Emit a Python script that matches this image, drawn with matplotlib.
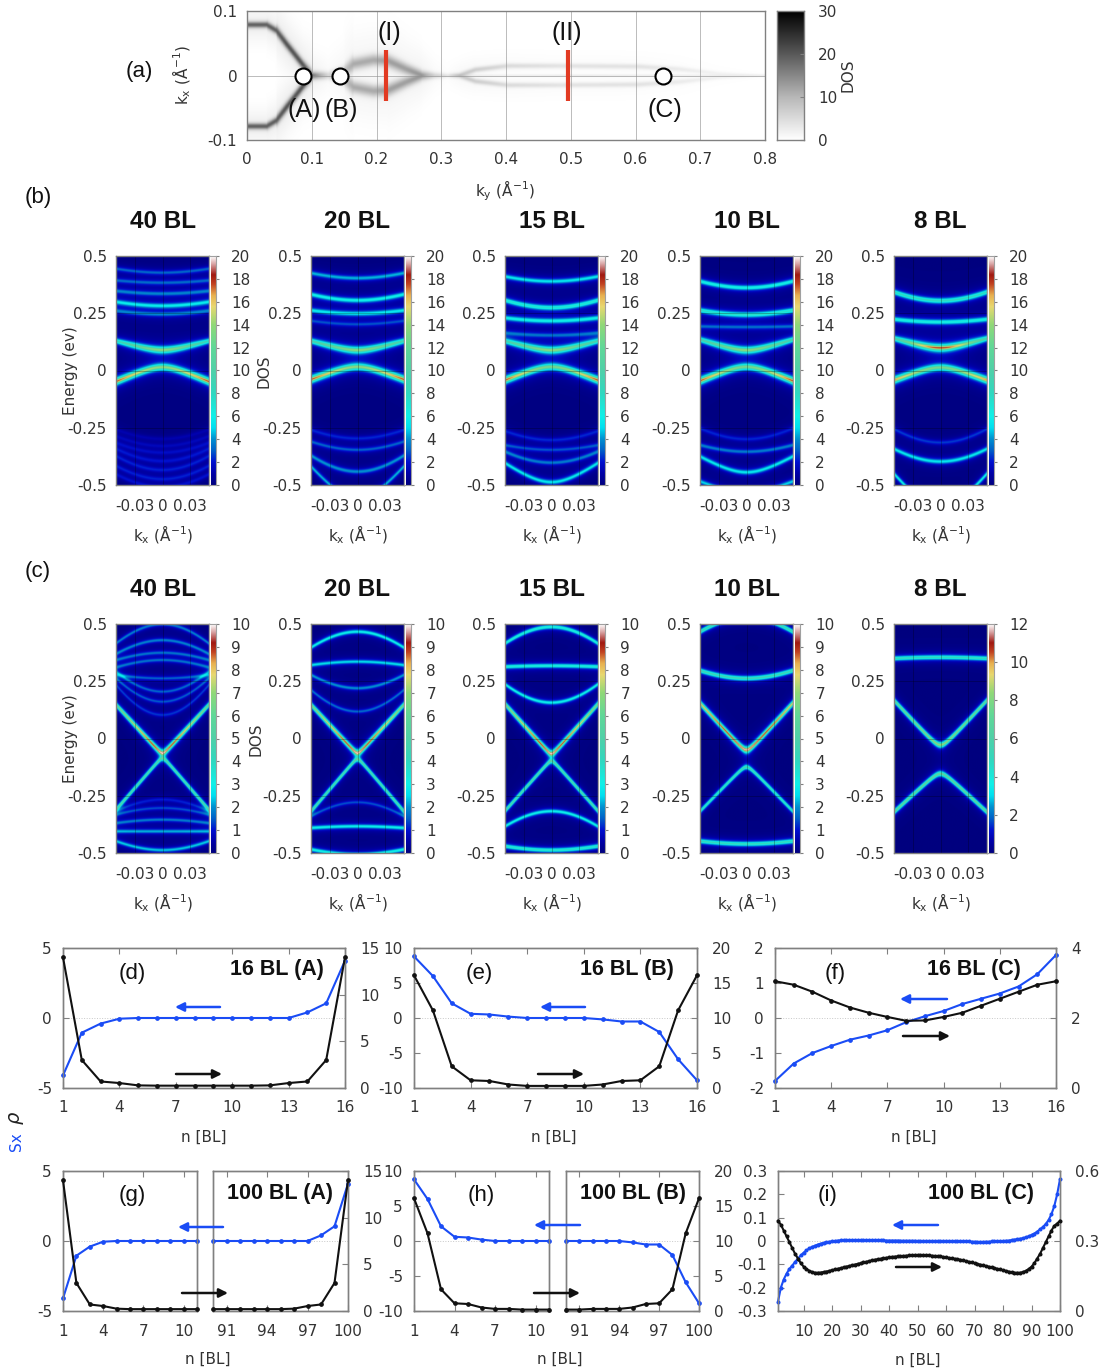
import numpy as np
import matplotlib
matplotlib.use("Agg")
import matplotlib.pyplot as plt
from matplotlib.colors import LinearSegmentedColormap

W, H = 1105, 1372
plt.rcParams['font.family'] = 'DejaVu Sans'
plt.rcParams['mathtext.default'] = 'regular'
TXT = '#333333'
SPINE = '#808080'
BLUE = '#1a4cf5'
fig = plt.figure(figsize=(W / 100, H / 100), dpi=100)

# ---------- panel (a) data ----------
a_ky = [0, .03, .045, .06, .085, .1, .125, .15, .164, .195, .217, .246, .27, .29, .31, .328, .353, .403, .48, .605, .667, .73, .8]
a_kx = [.079, .079, .07, .05, .018, 0, 0, .006, .018, .024, .023, .010, 0, 0, 0, 0, .009, .015, .015, .014, .01, .003, 0]
a_amp = [17, 17, 17, 18, 18, 15, 5, 8, 10, 10, 11, 11, 12, 5, 2, 7, 6, 4.5, 3.5, 3.5, 2.5, 1.5, .8]
a_w = [.005, .005, .005, .005, .005, .006, .006, .008, .009, .009, .009, .008, .007, .005, .004, .004, .004, .004, .004, .004, .004, .003, .002]
a_line_ky = [0, .28, .3, .5, .7, .8]
a_line_amp = [0, 0, 1.5, 2.5, 2, 1.5]
a_points_ky = [.087, .143, .643]
a_cuts_ky = [.215, .495]
a_cut_half = .0395
a_xticks = [0, .1, .2, .3, .4, .5, .6, .7, .8]
a_yticks = [-.1, 0, .1]
a_cb_ticks = [0, 10, 20, 30]

# ---------- panels (b): band energy at k=0, at zone edge, peak DOS at k=0 and edge, curvature shape ----------
panel_titles = ['40 BL', '20 BL', '15 BL', '10 BL', '8 BL']

b40_e0 = [.428, .384, .336, .283, .246, .09, .0145, -.299, -.33, -.359, -.396, -.435, -.475, -.51]
b40_e1 = [.445, .394, .348, .30, .261, .129, -.048, -.258, -.287, -.316, -.342, -.374, -.417, -.454]
b40_a0 = [3, 3, 3.5, 5.5, 3.5, 14, 14, 1, 1.2, 1.5, 1.8, 2, 2, 1.8]
b40_a1 = [3, 3, 3.5, 5.5, 3.5, 8, 18, 1, 1.2, 1.5, 1.8, 2, 2, 1.8]
b40_m = [1.5, 1.5, 1.5, 1.5, 1.5, .35, .35, 1.5, 1.5, 1.5, 1.5, 1.5, 1.5, 1.5]

b20_e0 = [.404, .307, .249, .202, .089, .016, -.297, -.347, -.442, -.56]
b20_e1 = [.426, .333, .263, .217, .129, -.039, -.260, -.311, -.372, -.42]
b20_a0 = [4.5, 6, 5.5, 2.5, 14, 14, 2.2, 3, 4, 4.5]
b20_a1 = [4.5, 6, 5.5, 2.5, 9, 18, 2.2, 3, 4, 4.5]
b20_m = [1.5, 1.5, 1.5, 1.5, .35, .35, 1.5, 1.5, 1.5, .6]

b15_e0 = [.39, .275, .217, .154, .089, .016, -.304, -.347, -.403, -.488]
b15_e1 = [.411, .307, .23, .164, .129, -.042, -.265, -.326, -.355, -.405]
b15_a0 = [5.5, 7, 6, 3, 14, 13, 2.2, 2.7, 3.5, 5.5]
b15_a1 = [5.5, 7, 6, 3, 9, 18, 2.2, 2.7, 3.5, 5.5]
b15_m = [1.5, 1.5, 1.5, 1.5, .35, .35, 1.5, 1.5, 1.5, .6]

b10_e0 = [.362, .244, .19, .089, .016, -.30, -.355, -.445, -.536]
b10_e1 = [.39, .263, .193, .135, -.045, -.253, -.326, -.376, -.485]
b10_a0 = [6.5, 7.5, 3, 14, 13, 2.2, 3.5, 5.5, 5]
b10_a1 = [6.5, 7.5, 3, 9, 18, 2.2, 3.5, 5.5, 5]
b10_m = [1.5, 1.5, 1.5, .35, .35, 1.5, 1.5, .6, .6]

b8_e0 = [.305, .212, .099, .013, -.315, -.398, -.60]
b8_e1 = [.343, .224, .14, -.042, -.256, -.343, -.452]
b8_a0 = [8, 6.5, 18, 13, 2.5, 5.5, 6]
b8_a1 = [8, 6.5, 9, 17, 2.5, 5.5, 6]
b8_m = [1.5, 1.5, .35, .35, 1.5, 1.5, .6]

# ---------- panels (c) ----------
c40_e0 = [.5, .43, .375, .343, .263, .205, .161, .103, -.064, -.086, -.267, -.304, -.355, -.406, -.488]
c40_e1 = [.416, .37, .343, .311, .278, .292, .263, .234, .147, -.311, -.318, -.333, -.37, -.406, -.449]
c40_a0 = [1.8, 1.8, 1.6, 1.6, 1.5, 1.5, 1.4, 1.2, 10, 5, 1, 1.3, 1.7, 2.2, 2.4]
c40_a1 = [1.8, 1.8, 1.6, 1.6, 1.5, 1.5, 1.4, 1.2, 6, 5, 1, 1.3, 1.7, 2.2, 2.4]
c40_m = [1.5, 1.5, 1.5, 1.5, 1.5, 1.5, 1.5, 1.5, .04, .04, 1.5, 1.5, 1.5, 1.5, 1.5]

c20_e0 = [.467, .336, .22, .118, -.064, -.09, -.279, -.384, -.507]
c20_e1 = [.398, .321, .278, .212, .147, -.318, -.34, -.391, -.485]
c20_a0 = [3, 2.6, 2, 1.6, 10, 5, 1.4, 3, 3.2]
c20_a1 = [3, 2.6, 2, 1.6, 6.5, 5, 1.4, 3, 3.2]
c20_m = [1.5, 1.5, 1.5, 1.5, .04, .04, 1.5, 1.5, 1.5]

c15_e0 = [.488, .318, .157, -.067, -.098, -.318, -.488]
c15_e1 = [.416, .314, .237, .15, -.316, -.384, -.471]
c15_a0 = [3.5, 3.5, 3, 10, 5, 3, 3.8]
c15_a1 = [3.5, 3.5, 3, 6.5, 5, 3, 3.8]
c15_m = [1.5, 1.5, 1.5, .04, .04, 1.5, 1.5]

c10_e0 = [.53, .263, -.05, -.125, -.461]
c10_e1 = [.467, .297, .154, -.318, -.449]
c10_a0 = [4.5, 4.5, 10, 4.5, 4.2]
c10_a1 = [4.5, 4.5, 8, 4, 4.2]
c10_m = [1.5, 1.5, .08, .08, 1.5]

c8_e0 = [.355, -.028, -.154]
c8_e1 = [.35, .166, -.321]
c8_a0 = [5, 8.5, 7]
c8_a1 = [5, 7, 7]
c8_m = [1.5, .12, .12]

# ---------- line panels ----------
n16 = list(range(1, 17))
d_sx = [-4.1, -1.05, -.4, -.05, 0, 0, 0, 0, 0, 0, 0, 0, 0, .4, 1.05, 4.1]
d_rho = [14, 3, .7, .53, .28, .25, .25, .25, .25, .25, .25, .28, .53, .7, 3, 14]
e_sx = [8.8, 6, 2.1, .6, .5, .2, 0, 0, 0, 0, -.2, -.5, -.5, -2, -5.9, -8.9]
e_rho = [16.1, 11.1, 3.1, 1.1, 1, .5, .3, .3, .3, .3, .5, 1, 1.1, 3.1, 11.1, 16.1]
f_sx = [-1.8, -1.3, -1, -.8, -.62, -.5, -.35, -.12, .05, .2, .4, .55, .7, .9, 1.25, 1.8]
f_rho = [3.05, 2.95, 2.75, 2.5, 2.3, 2.15, 2.03, 1.92, 1.93, 2.03, 2.15, 2.35, 2.55, 2.75, 2.95, 3.05]

n_low = list(range(1, 12))
n_high = list(range(90, 101))
g_sx_low = [-4.1, -1.05, -.4, -.05, 0, 0, 0, 0, 0, 0, 0]
g_rho_low = [14, 3, .7, .53, .25, .2, .2, .2, .2, .2, .2]
g_sx_high = [0, 0, 0, 0, 0, 0, 0, 0, .4, 1.05, 4.1]
g_rho_high = [.2, .2, .2, .2, .2, .2, .25, .53, .7, 3, 14]
h_sx_low = [8.8, 6, 2.1, .6, .5, .2, 0, 0, 0, 0, 0]
h_rho_low = [16.1, 11.1, 3.1, 1.1, 1, .5, .3, .3, .2, .2, .2]
h_sx_high = [0, 0, 0, 0, 0, -.2, -.5, -.5, -2, -5.9, -8.9]
h_rho_high = [.2, .2, .3, .3, .3, .5, 1, 1.1, 3.1, 11.1, 16.1]

n100 = list(range(1, 101))
i_sx = [-.26, -.2, -.165, -.14, -.12, -.105, -.09, -.075, -.062, -.05,
        -.04, -.032, -.025, -.02, -.015, -.011, -.008, -.005, -.003, -.001,
        0, .002, .003, .003, .003, .003, .003, .003, .003, .003,
        .003, .003, .003, .003, .003, .003, .003, .003, .002, .002,
        .002, .002, .002, .001, .001, .001, .001, .001, .001, 0,
        0, 0, 0, 0, 0, 0, 0, 0, 0, 0,
        0, -.001, -.001, -.001, -.001, -.001, -.002, -.002, -.003, -.003,
        -.004, -.004, -.004, -.003, -.003, -.002, -.002, -.001, -.001, 0,
        .001, .002, .004, .006, .008, .01, .012, .016, .02, .026,
        .032, .04, .05, .06, .073, .09, .115, .15, .2, .265]
i_rho = [.387, .37, .345, .32, .295, .27, .245, .225, .205, .19,
         .18, .172, .167, .164, .164, .165, .167, .169, .172, .175,
         .178, .181, .184, .187, .19, .193, .196, .199, .202, .205,
         .208, .211, .214, .217, .22, .222, .224, .226, .228, .23,
         .232, .233, .234, .235, .236, .237, .238, .239, .24, .24,
         .24, .24, .239, .238, .237, .236, .235, .234, .232, .23,
         .228, .226, .224, .222, .22, .217, .214, .211, .208, .205,
         .202, .199, .196, .193, .19, .187, .184, .181, .178, .175,
         .172, .169, .166, .164, .164, .164, .167, .172, .18, .19,
         .205, .225, .245, .27, .295, .32, .345, .365, .375, .387]

# ---------- helpers ----------
def ax_px(x0, y0, x1, y1, **kw):
    return fig.add_axes([x0 / W, 1 - y1 / H, (x1 - x0) / W, (y1 - y0) / H], **kw)

def gray_spines(ax, c=SPINE, lw=1.0):
    for s in ax.spines.values():
        s.set_color(c)
        s.set_linewidth(lw)

FS = 11
jet_like = LinearSegmentedColormap.from_list('jetlike', [
    (0, '#00007f'), (.05, '#0000a8'), (.1, '#0010d0'), (.15, '#0060c8'), (.2, '#0090d0'),
    (.25, '#00e0f0'), (.3, '#10f0e8'), (.4, '#30d8c0'), (.5, '#50d0a8'), (.6, '#60d898'),
    (.7, '#90d878'), (.78, '#e8d870'), (.83, '#e8b050'), (.88, '#c04020'), (.92, '#a01810'),
    (.96, '#d09090'), (1, '#ffffff')])
gray_like = LinearSegmentedColormap.from_list('graylike', [(0, '#ffffff'), (.33, '#b8b8b8'), (.67, '#585858'), (1, '#000000')])

k_axis = np.linspace(-.05, .05, 240)
e_axis = np.linspace(-.5, .5, 700)

def band_map(e0, e1, a0, a1, ms, gamma):
    K, E = np.meshgrid(k_axis, e_axis)
    u = np.abs(K) / .05
    Z = np.zeros_like(K)
    for ea, eb, aa, ab, m in zip(e0, e1, a0, a1, ms):
        f = (np.sqrt(m ** 2 + u ** 2) - m) / (np.sqrt(m ** 2 + 1) - m)
        centre = ea + (eb - ea) * f
        amp = aa + (ab - aa) * f
        Z += amp * gamma ** 2 / (gamma ** 2 + (E - centre) ** 2)
    return Z

def heat_panel(x0, y0, y1, bands, vmax, cticks, gamma, title):
    x1 = x0 + 93
    ax = ax_px(x0, y0, x1, y1)
    ax.imshow(band_map(*bands, gamma), origin='lower', extent=[-.05, .05, -.5, .5], aspect='auto',
              cmap=jet_like, vmin=0, vmax=vmax, interpolation='bilinear')
    ax.set_xticks([-.03, 0, .03], ['-0.03', '0', '0.03'])
    ax.set_yticks([-.5, -.25, 0, .25, .5], ['-0.5', '-0.25', '0', '0.25', '0.5'])
    ax.tick_params(length=0, labelsize=FS, labelcolor=TXT)
    ax.tick_params(axis='x', pad=10)
    ax.tick_params(axis='y', pad=6.5)
    ax.grid(True, color='black', lw=.6, alpha=.3)
    gray_spines(ax)
    cb = ax_px(x1, y0, x1 + 7, y1)
    cb.imshow(np.linspace(0, 1, 256)[:, None], origin='lower', aspect='auto', cmap=jet_like,
              extent=[.3, 1, 0, vmax], interpolation='bilinear')
    cb.set_xlim(0, 1)
    cb.set_ylim(0, vmax)
    cb.set_xticks([])
    cb.yaxis.tick_right()
    cb.set_yticks(cticks, [str(t) for t in cticks])
    cb.tick_params(axis='y', length=2.5, width=.8, color=SPINE, labelsize=FS, labelcolor=TXT, pad=8.5)
    gray_spines(cb, '#a0a0a0', .8)
    overlay.text(x0 + 46.5, y0 - 35, title, ha='center', va='center', fontsize=17.5,
                 family='Liberation Sans', weight='bold', color='#111111')
    overlay.text(x0 + 46.5, y1 + 50, 'k$_{x}$ (Å$^{-1}$)', ha='center', va='center', fontsize=FS, color=TXT)

def style_line_axes(ax):
    gray_spines(ax)
    ax.tick_params(direction='in', length=4, width=.8, color=SPINE, labelsize=FS, labelcolor=TXT)
    ax.patch.set_alpha(0)

def plot_pair(ax, tw, n, sx, rho, ms=2.4):
    ax.axhline(0, color='#c8c8c8', lw=.7, ls=':', zorder=1)
    ax.plot(n, sx, '-o', color=BLUE, lw=1.5, ms=ms, clip_on=False, zorder=3)
    tw.plot(n, rho, '-o', color='#111111', lw=1.5, ms=ms, clip_on=False, zorder=3)

def line_panel(x0, x1, y0, y1, n, sx, rho, xticks, xlabels, yl, yticks, yr, rticks, ms=2.4):
    ax = ax_px(x0, y0, x1, y1)
    tw = ax.twinx()
    plot_pair(ax, tw, n, sx, rho, ms)
    ax.set_xlim(min(n), max(n))
    ax.set_ylim(*yl)
    tw.set_ylim(*yr)
    ax.set_xticks(xticks, xlabels)
    ax.xaxis.set_ticks_position('both')
    ax.set_yticks(yticks, [f'{t:g}' for t in yticks])
    tw.set_yticks(rticks, [f'{t:g}' for t in rticks])
    style_line_axes(ax)
    style_line_axes(tw)
    ax.tick_params(axis='x', pad=9)
    ax.tick_params(axis='y', pad=8)
    tw.tick_params(axis='y', pad=11)
    return ax

def broken_panel(x0, x1, x2, x3, y0, y1, sx_l, rho_l, sx_h, rho_h, yl, yticks, yr, rticks):
    a = ax_px(x0, y0, x1, y1)
    ta = a.twinx()
    plot_pair(a, ta, n_low, sx_l, rho_l)
    a.set_xlim(1, 11)
    a.set_ylim(*yl)
    ta.set_ylim(*yr)
    a.set_xticks([1, 4, 7, 10], ['1', '4', '7', '10'])
    a.xaxis.set_ticks_position('both')
    a.set_yticks(yticks, [f'{t:g}' for t in yticks])
    ta.set_yticks([])
    style_line_axes(a)
    gray_spines(ta)
    a.tick_params(axis='x', pad=9)
    a.tick_params(axis='y', pad=8)
    b = ax_px(x2, y0, x3, y1)
    tb = b.twinx()
    plot_pair(b, tb, n_high, sx_h, rho_h)
    b.set_xlim(90, 100)
    b.set_ylim(*yl)
    tb.set_ylim(*yr)
    b.set_xticks([91, 94, 97, 100], ['91', '94', '97', '100'])
    b.xaxis.set_ticks_position('both')
    b.set_yticks([])
    tb.set_yticks(rticks, [f'{t:g}' for t in rticks])
    style_line_axes(b)
    style_line_axes(tb)
    b.tick_params(axis='x', pad=9)
    tb.tick_params(axis='y', pad=11)

# overlay in pixel coordinates for labels and arrows
overlay = fig.add_axes([0, 0, 1, 1], zorder=20)
overlay.set_xlim(0, W)
overlay.set_ylim(H, 0)
overlay.axis('off')

# ---------- (a) ----------
ax = ax_px(247, 11, 765, 140)
ky = np.linspace(0, .8, 800)
kx = np.linspace(-.1, .1, 260)
KY, KX = np.meshgrid(ky, kx)
kc = np.interp(ky, a_ky, a_kx)
amp = np.interp(ky, a_ky, a_amp)
wid = np.interp(ky, a_ky, a_w) * np.sqrt(1 + np.gradient(kc, ky) ** 2)
Z = amp * np.exp(-((np.abs(KX) - kc) / wid) ** 2) + .13 * amp * np.exp(-((np.abs(KX) - kc) / (5 * wid)) ** 2)
Z += np.interp(ky, a_line_ky, a_line_amp) * np.exp(-(KX / .0018) ** 2)
ax.imshow(Z, origin='lower', extent=[0, .8, -.1, .1], aspect='auto', cmap=gray_like, vmin=0, vmax=30, interpolation='bilinear')
ax.set_xticks(a_xticks, [f'{t:g}' for t in a_xticks])
ax.set_yticks(a_yticks, [f'{t:g}' for t in a_yticks])
ax.tick_params(length=0, labelsize=FS, labelcolor=TXT)
ax.tick_params(axis='x', pad=9)
ax.tick_params(axis='y', pad=7)
ax.grid(True, color='#909090', lw=.6, alpha=.7)
gray_spines(ax)
ax.vlines(a_cuts_ky, -a_cut_half, a_cut_half, color='#e23a22', lw=3, zorder=4)
ax.plot(a_points_ky, [0, 0, 0], 'o', ms=11.5, mfc='white', mec='black', mew=1.5, ls='none', zorder=5)
cb = ax_px(777, 11, 804, 140)
cb.imshow(np.linspace(0, 1, 256)[:, None], origin='lower', aspect='auto', cmap=gray_like, extent=[0, 1, 0, 30])
cb.set_xticks([])
cb.yaxis.tick_right()
cb.set_yticks(a_cb_ticks, [str(t) for t in a_cb_ticks])
cb.tick_params(axis='y', direction='in', length=3, width=.8, color=SPINE, labelsize=FS, labelcolor=TXT, pad=10)
gray_spines(cb)
overlay.text(848, 75, 'DOS', rotation=90, ha='center', va='center', fontsize=FS, color=TXT)
overlay.text(505, 191, 'k$_{y}$ (Å$^{-1}$)', ha='center', va='center', fontsize=FS, color=TXT)
overlay.text(182, 75, 'k$_{x}$ (Å$^{-1}$)', rotation=90, ha='center', va='center', fontsize=FS, color=TXT)

lab = dict(family='Liberation Sans', ha='center', va='center', color='#111111')
for s, x, y in [('(a)', 139, 71), ('(b)', 38, 198), ('(c)', 38, 571)]:
    overlay.text(x, y, s, fontsize=16, **lab)
for s, x, y in [('(I)', 389, 33), ('(II)', 567, 33), ('(A)', 304, 110), ('(B)', 341, 110), ('(C)', 665, 110)]:
    overlay.text(x, y, s, fontsize=18, **lab)

# ---------- (b), (c) ----------
xs = [116, 311, 505, 700, 894]
b_sets = [(b40_e0, b40_e1, b40_a0, b40_a1, b40_m), (b20_e0, b20_e1, b20_a0, b20_a1, b20_m),
          (b15_e0, b15_e1, b15_a0, b15_a1, b15_m), (b10_e0, b10_e1, b10_a0, b10_a1, b10_m),
          (b8_e0, b8_e1, b8_a0, b8_a1, b8_m)]
c_sets = [(c40_e0, c40_e1, c40_a0, c40_a1, c40_m), (c20_e0, c20_e1, c20_a0, c20_a1, c20_m),
          (c15_e0, c15_e1, c15_a0, c15_a1, c15_m), (c10_e0, c10_e1, c10_a0, c10_a1, c10_m),
          (c8_e0, c8_e1, c8_a0, c8_a1, c8_m)]
b_ticks = list(range(0, 21, 2))
c_ticks = list(range(0, 11))
c8_ticks = list(range(0, 13, 2))
for i in range(5):
    heat_panel(xs[i], 256, 485, b_sets[i], 20, b_ticks, .0095, panel_titles[i])
    heat_panel(xs[i], 624, 853, c_sets[i], 12 if i == 4 else 10, c8_ticks if i == 4 else c_ticks, .008, panel_titles[i])
overlay.text(70, 371, 'Energy (ev)', rotation=90, ha='center', va='center', fontsize=FS, color=TXT)
overlay.text(264, 371, 'DOS', rotation=90, ha='center', va='center', fontsize=FS, color=TXT)
overlay.text(70, 739, 'Energy (ev)', rotation=90, ha='center', va='center', fontsize=FS, color=TXT)
overlay.text(256, 739, 'DOS', rotation=90, ha='center', va='center', fontsize=FS, color=TXT)

# ---------- (d)-(i) ----------
t16 = [1, 4, 7, 10, 13, 16]
l16 = [str(t) for t in t16]
line_panel(63, 345, 948, 1088, n16, d_sx, d_rho, t16, l16, (-5, 5), [-5, 0, 5], (0, 15), [0, 5, 10, 15])
line_panel(414, 697, 948, 1088, n16, e_sx, e_rho, t16, l16, (-10, 10), [-10, -5, 0, 5, 10], (0, 20), [0, 5, 10, 15, 20])
line_panel(775, 1056, 948, 1088, n16, f_sx, f_rho, t16, l16, (-2, 2), [-2, -1, 0, 1, 2], (0, 4), [0, 2, 4])
broken_panel(63, 197, 213, 348, 1171, 1311, g_sx_low, g_rho_low, g_sx_high, g_rho_high, (-5, 5), [-5, 0, 5], (0, 15), [0, 5, 10, 15])
broken_panel(414, 549, 566, 699, 1171, 1311, h_sx_low, h_rho_low, h_sx_high, h_rho_high, (-10, 10), [-10, -5, 0, 5, 10], (0, 20), [0, 5, 10, 15, 20])
t100 = list(range(10, 101, 10))
line_panel(778, 1060, 1171, 1311, n100, i_sx, i_rho, t100, [str(t) for t in t100], (-.3, .3),
           [-.3, -.2, -.1, 0, .1, .2, .3], (0, .6), [0, .3, .6], ms=1.9)

for s, x, y in [('(d)', 132, 973), ('(e)', 479, 973), ('(f)', 835, 973), ('(g)', 132, 1196), ('(h)', 481, 1196), ('(i)', 828, 1196)]:
    overlay.text(x, y, s, fontsize=16, **lab)
for s, x, y in [('16 BL (A)', 277, 969), ('16 BL (B)', 627, 969), ('16 BL (C)', 974, 969),
                ('100 BL (A)', 280, 1194), ('100 BL (B)', 633, 1194), ('100 BL (C)', 981, 1194)]:
    overlay.text(x, y, s, fontsize=15.5, weight='bold', **lab)
for x, y in [(204, 1137), (554, 1137), (914, 1137), (208, 1359), (560, 1359), (918, 1360)]:
    overlay.text(x, y, 'n [BL]', ha='center', va='center', fontsize=FS, color=TXT)
overlay.text(17, 1142, 'Sx', rotation=90, ha='center', va='center', fontsize=FS, color=BLUE)
overlay.text(17, 1118, r'$\rho$', rotation=90, ha='center', va='center', fontsize=14, color='#222222', style='italic')

blue_arrows = [(220, 175, 1007), (585, 540, 1007), (947, 900, 999), (223, 178, 1227), (580, 534, 1225), (938, 892, 1225)]
black_arrows = [(176, 222, 1074), (538, 584, 1074), (903, 950, 1036), (182, 228, 1293), (534, 580, 1293), (896, 942, 1267)]
for arrows, col in [(blue_arrows, BLUE), (black_arrows, '#111111')]:
    for xa, xb, y in arrows:
        overlay.annotate('', xy=(xb, y), xytext=(xa, y), annotation_clip=False,
                         arrowprops=dict(arrowstyle='-|>', color=col, lw=1.8, mutation_scale=13, shrinkA=0, shrinkB=0))

fig.savefig('out.png', dpi=100)
